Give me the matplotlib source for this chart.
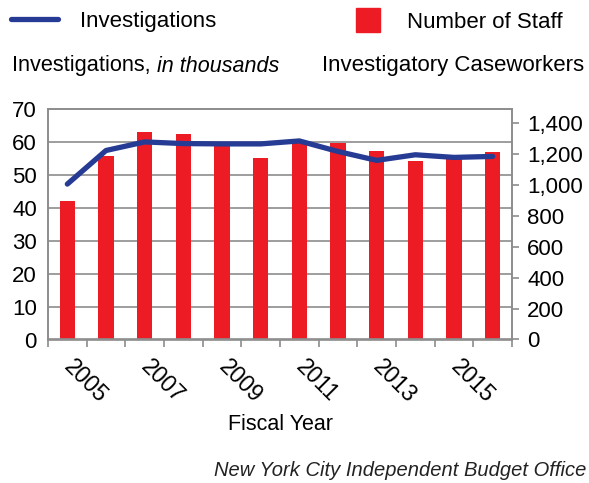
import numpy as np
import matplotlib
matplotlib.use("Agg")
import matplotlib.pyplot as plt
from matplotlib.lines import Line2D
from matplotlib.transforms import blended_transform_factory

plt.rcParams['font.family'] = ['Liberation Sans', 'DejaVu Sans']

years = list(range(2005, 2017))
# investigations, thousands (left axis)
investigations = [47.2, 57.4, 60.0, 59.5, 59.4, 59.4, 60.3, 57.1, 54.4, 56.1, 55.3, 55.6]
# investigatory caseworkers (right axis)
staff = [896, 1187, 1341, 1326, 1255, 1173, 1280, 1270, 1220, 1151, 1170, 1211]
year_labels = ['2005', '2007', '2009', '2011', '2013', '2015']
left_ticks = [0, 10, 20, 30, 40, 50, 60, 70]
right_ticks = [0, 200, 400, 600, 800, 1000, 1200, 1400]

red = '#ed1c24'
blue = '#263b94'
grey = '#8c8c8c'

fig = plt.figure(figsize=(5.89, 4.83), dpi=100)
ax = fig.add_axes([48/589, 1-339.5/483, 464/589, 230.5/483])
ax2 = ax.twinx()
# bars sit behind the line
ax.set_zorder(2)
ax.patch.set_visible(False)
ax2.set_zorder(1)

x = np.arange(len(years))
ax2.bar(x, staff, width=0.4, color=red, zorder=2)
ax.plot(x, investigations, color=blue, lw=3.8, solid_capstyle='round',
        solid_joinstyle='round', zorder=3)

ax.set_xlim(-0.5, len(years) - 0.5)
ax.set_ylim(0, 70)
ax2.set_ylim(0, 1490)

# horizontal grid at the left-axis steps, drawn under the bars
tr = blended_transform_factory(ax2.transAxes, ax.transData)
ax2.hlines(left_ticks[1:-1], 0, 1, transform=tr, color=grey, lw=1.2, zorder=1)

ax.set_yticks(left_ticks)
ax.tick_params(axis='y', length=0, pad=8, labelsize=16)
ax2.set_yticks(right_ticks)
ax2.set_yticklabels(['{:,}'.format(v) for v in right_ticks])
ax2.tick_params(axis='y', length=5, width=1.2, color=grey, pad=6, labelsize=16)

ax.set_xticks(np.arange(-0.5, len(years)), minor=True)
ax.set_xticks(x[::2])
ax.set_xticklabels(year_labels, rotation=-45, ha='left', va='center',
                   rotation_mode='anchor')
ax.tick_params(axis='x', which='major', length=0, pad=17, labelsize=16.5)
ax.tick_params(axis='x', which='minor', length=5, width=1.2, color=grey)

for a in (ax, ax2):
    for s in a.spines.values():
        s.set_color(grey)
        s.set_linewidth(1.2)

fig.text(280/589, 1-425/483, 'Fiscal Year', ha='center', va='center', fontsize=15.5)

# legend row
fig.legend(handles=[Line2D([], [], color=blue, lw=3.8, solid_capstyle='round')],
           labels=['Investigations'], loc='center left',
           bbox_to_anchor=(11/589, 1-21/483), frameon=False, fontsize=16,
           handlelength=2.1, handletextpad=1.0, borderpad=0, borderaxespad=0)
fig.legend(handles=[Line2D([], [], color=red, marker='s', ms=17, lw=0)],
           labels=['Number of Staff'], loc='center left',
           bbox_to_anchor=(354/589, 1-22/483), frameon=False, fontsize=16,
           handlelength=1.3, handletextpad=1.1, borderpad=0, borderaxespad=0)

t1 = fig.text(12/589, 1-66/483, 'Investigations, ', ha='left', va='center', fontsize=15.7)
fig.canvas.draw()
ax.annotate('in thousands', xy=(1, 0), xycoords=t1, ha='left', va='bottom',
            fontsize=15.5, style='italic', annotation_clip=False)
fig.text(584/589, 1-66/483, 'Investigatory Caseworkers', ha='right', va='center', fontsize=16)

fig.text(586/589, 1-471/483, 'New York City Independent Budget Office', ha='right',
         va='center', fontsize=14.5, style='italic', color='#222222')

fig.savefig('out.png', dpi=100)
